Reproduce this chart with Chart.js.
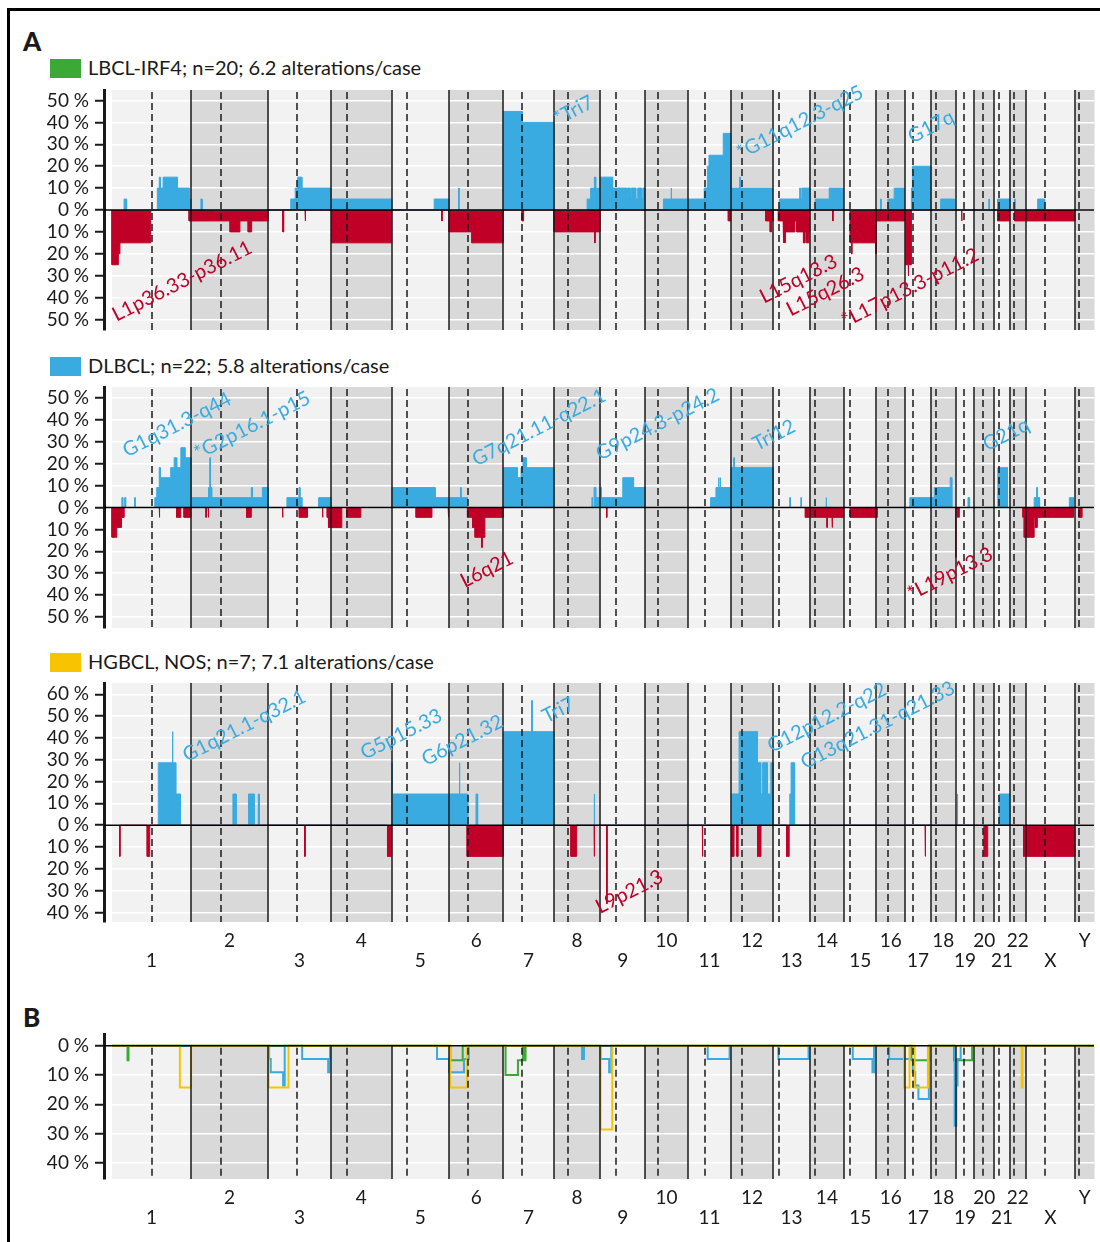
<!DOCTYPE html>
<html>
<head>
<meta charset="utf-8">
<script src="https://cdn.jsdelivr.net/npm/chart.js@4.4.1/dist/chart.umd.min.js"></script>
<style>
  body { margin:0; width:1100px; height:1242px; background:#fff; position:relative; overflow:hidden;
         font-family: Lato, "Noto Sans", sans-serif; color:#1a1a1a; }
  .frame { position:absolute; left:7px; top:8px; width:1100px; height:1240px; border-left:3px solid #000; border-top:3px solid #000; }
  .tag { position:absolute; left:23px; font-weight:900; font-size:26px; line-height:26px; }
  .patch { position:absolute; left:50px; width:31px; height:19px; }
  .legend { position:absolute; left:88px; font-size:20px; line-height:22px; white-space:nowrap; }
  canvas { position:absolute; left:30px; }
</style>
</head>
<body>
<div class="frame"></div>
<div class="tag" style="top:28px">A</div>
<div class="patch" style="top:59px;background:#3aa935"></div>
<div class="legend" style="top:56px">LBCL-IRF4; n=20; 6.2 alterations/case</div>
<canvas id="irf4" width="1070" height="250" style="top:85px"></canvas>

<div class="patch" style="top:357px;background:#3aabe1"></div>
<div class="legend" style="top:354px">DLBCL; n=22; 5.8 alterations/case</div>
<canvas id="dlbcl" width="1070" height="251" style="top:382px"></canvas>

<div class="patch" style="top:653px;background:#f8c300"></div>
<div class="legend" style="top:650px">HGBCL, NOS; n=7; 7.1 alterations/case</div>
<canvas id="hgbcl" width="1070" height="294" style="top:678px"></canvas>

<div class="tag" style="top:1004px">B</div>
<canvas id="homdel" width="1070" height="200" style="top:1029px"></canvas>

<script>
// ====== Genome (hg19, Mb) ======
const chrNames = ['1','2','3','4','5','6','7','8','9','10','11','12','13','14','15','16','17','18','19','20','21','22','X','Y'];
const chrLen   = [249.25, 243.2, 198.02, 191.15, 180.92, 171.12, 159.14, 146.36, 141.21, 135.53, 135.01, 133.85,
                  115.17, 107.35, 102.53, 90.35, 81.2, 78.08, 59.13, 63.03, 48.13, 51.3, 155.27, 59.37];
const chrCen   = [125, 93.3, 91, 50.4, 48.4, 61, 59.9, 45.6, 49, 40.2, 53.7, 35.8,
                  17.9, 17.6, 19, 36.6, 24, 17.2, 26.5, 27.5, 13.2, 14.7, 60.6, 12.5];

const chrStart = {};
let acc = 0;
chrNames.forEach((c, i) => { chrStart[c] = acc; acc += chrLen[i]; });
const genomeEnd = acc;

// ====== Tick labels (%) ======
const pctTicksAB = [-50, -40, -30, -20, -10, 0, 10, 20, 30, 40, 50];
const pctTicksC  = [-40, -30, -20, -10, 0, 10, 20, 30, 40, 50, 60];
const pctTicksHD = [-40, -30, -20, -10, 0];

// ====== Segments : [chr, start Mb, end Mb, % of cases] ======
const irf4Gain = [
  ['1',38,46,5], ['1',143,149,10], ['1',149,153,15], ['1',153,161,10], ['1',161,206,15], ['1',206,243,10], ['1',243,249.2,5],
  ['2',31,35,5],
  ['3',71,85,5], ['3',85,93,10], ['3',93,106,15], ['3',106,198,10],
  ['4',0,191.1,5],
  ['5',134,180.9,5],
  ['6',30,31.5,10],
  ['7',0,60,45], ['7',60,159.1,40],
  ['8',105,116,5], ['8',116,128,10], ['8',128,132,15], ['8',132,146.3,10],
  ['9',0,39,15], ['9',39,83,10], ['9',83,86,5], ['9',86,95,10], ['9',95,98,5], ['9',98,112,10], ['9',112,118,5], ['9',118,130,10], ['9',130,134,5], ['9',134,141,10],
  ['10',58,82,5], ['10',82,83.5,10], ['10',83.5,135.5,5],
  ['11',0,51,5], ['11',51,61,10], ['11',61,66,20], ['11',66,111,25], ['11',111,135,35],
  ['12',0,28,10], ['12',28,30,15], ['12',30,131,10],
  ['13',19,83,5], ['13',83,86,10], ['13',86,90,5], ['13',90,115,10],
  ['14',17,61,5], ['14',61,105,10],
  ['16',13,14.5,5], ['16',36,56,5], ['16',56,87,10],
  ['17',20,23,10], ['17',23,81,20],
  ['18',31,74,5],
  ['20',46,47,5],
  ['21',10,48,5],
  ['22',16,17,5],
  ['X',37,59,5]
];
const irf4Loss = [
  ['1',0,20,25], ['1',20,25,20], ['1',25,122,15], ['1',243,249.2,5],
  ['2',0,123,5], ['2',123,154,10], ['2',154,180,5], ['2',180,191,10], ['2',191,243,5],
  ['3',46,49,10], ['3',116,118,5],
  ['4',2,191,15],
  ['5',158,159.5,5],
  ['6',0,72,10], ['6',72,171.1,15],
  ['7',59,64,5],
  ['8',0,129,10], ['8',129,130.5,15], ['8',130.5,146,10],
  ['11',127,135,5],
  ['12',110,124,5], ['12',124,128,10], ['12',128,133.8,5],
  ['13',16,31,5], ['13',31,33,15], ['13',33,36,10], ['13',36,38,15], ['13',38,68,10], ['13',68,74,5], ['13',74,95,10],
  ['13',95,100,15], ['13',100,104,10], ['13',104,112,15], ['13',112,115,10],
  ['14',72,73.5,5],
  ['15',20,24,15], ['15',24,26,20], ['15',26,101,15], ['15',101,102.5,20],
  ['16',0,90.3,5],
  ['17',0,3,5], ['17',3,10,25], ['17',10,11,30], ['17',11,20,25],
  ['19',19,20,5],
  ['21',10,48,5],
  ['22',16,51.3,5], ['X',0,155,5]
];

const dlbclGain = [
  ['1',31,34,4.5], ['1',40,43,4.5], ['1',71,73,4.5],
  ['1',135,141,4.5], ['1',141,149,9.1], ['1',149,152,18.2], ['1',152,185,13.6], ['1',185,196,18.2], ['1',196,204,22.7],
  ['1',204,217,18.2], ['1',217,230,27.3], ['1',230,249.2,22.7],
  ['2',0,55,4.5], ['2',55,59,9.1], ['2',59,61,22.7], ['2',61,65,9.1], ['2',65,190,4.5], ['2',190,193,9.1], ['2',193,225,4.5], ['2',225,243.2,9.1],
  ['3',59,97,4.5], ['3',97,100,9.1], ['3',100,106,4.5], ['3',159,198,4.5],
  ['5',0,137,9.1], ['5',137,180.9,4.5],
  ['6',0,36,4.5], ['6',36,38,9.1], ['6',38,58,4.5],
  ['7',0,44,18.2], ['7',44,56,13.6], ['7',56,62,18.2], ['7',62,72,22.7], ['7',72,159.1,18.2],
  ['8',120,122,4.5], ['8',127,132,9.1], ['8',132,146.3,4.5],
  ['9',0,3,9.1], ['9',3,71,4.5], ['9',71,105,13.6], ['9',105,141,9.1],
  ['11',71,88,4.5], ['11',88,96,9.1], ['11',96,97.5,13.6], ['11',97.5,101,9.1], ['11',101,102.5,13.6], ['11',102.5,135,9.1],
  ['12',0,9,18.2], ['12',9,11,22.7], ['12',11,133.8,18.2],
  ['13',52,53.5,4.5], ['13',87,88.5,4.5],
  ['14',51,52.5,4.5],
  ['17',15,81.2,4.5],
  ['18',0,11,4.5], ['18',11,61,9.1], ['18',61,66,13.6],
  ['19',39,44,4.5],
  ['21',11,41,18.2],
  ['X',26,34,4.5], ['X',34,36,9.1], ['X',36,43,4.5], ['X',137,150,4.5]
];
const dlbclLoss = [
  ['1',0,15,13.6], ['1',15,30,9.1], ['1',30,35,4.5], ['1',37,38.5,4.5], ['1',149,150.5,4.5], ['1',204,217,4.5], ['1',227,249,4.5],
  ['2',47,48.5,4.5], ['2',54,55.5,4.5], ['2',175,190,4.5],
  ['3',45,46.5,4.5], ['3',98,124,4.5], ['3',171,172.5,4.5], ['3',186,190,4.5], ['3',190,198,9.1],
  ['4',0,34,9.1], ['4',49,94,4.5],
  ['5',77,127,4.5], ['5',178,180,4.5],
  ['6',58,74,4.5], ['6',74,82,9.1], ['6',82,103,13.6], ['6',103,105,18.2], ['6',105,113,13.6], ['6',113,171.1,4.5],
  ['9',20,21.5,4.5],
  ['13',101,115.2,4.5],
  ['14',0,54,4.5], ['14',54,55.5,9.1], ['14',55.5,70,4.5], ['14',70,71.5,9.1], ['14',71.5,107,4.5],
  ['15',20,100,4.5],
  ['16',1,2.5,4.5],
  ['19',0,1.5,22.7], ['19',5,6,4.5], ['19',10,11,4.5],
  ['22',42,43,4.5], ['22',46,51.3,13.6],
  ['X',0,26,13.6], ['X',26,30,4.5], ['X',30,36,9.1], ['X',36,150,4.5],
  ['Y',11,22,4.5]
];

const hgbclGain = [
  ['1',146,190,28.6], ['1',190,192,42.9], ['1',192,201,28.6], ['1',201,216,14.3],
  ['2',132,142,14.3], ['2',181,199,14.3], ['2',212,215,14.3],
  ['5',0,2,28.6], ['5',2,180.9,14.3],
  ['6',0,32,14.3], ['6',32,34,28.6], ['6',34,59,14.3], ['6',85,90,14.3],
  ['7',0,89,42.9], ['7',89,91,57.1], ['7',91,159.1,42.9],
  ['8',127,128.5,14.3],
  ['12',3,26,14.3], ['12',26,84,42.9], ['12',84,94,28.6], ['12',94,100,14.3], ['12',100,115,28.6], ['12',115,126,14.3], ['12',126,133,28.6],
  ['13',52,56,14.3], ['13',56,67,28.6],
  ['19',5,6.5,14.3],
  ['21',15,48,14.3]
];
const hgbclLoss = [
  ['1',24,26,14.3], ['1',111,119,14.3],
  ['3',115,117,14.3],
  ['4',178,191.1,14.3],
  ['6',57,171.1,14.3],
  ['8',54,72,14.3], ['8',127,128.5,14.3],
  ['9',20.5,22,36],
  ['11',45,46.5,14.3],
  ['12',3,10,14.3], ['12',19,23,14.3], ['12',84,95,14.3],
  ['13',42,50,14.3],
  ['17',63,64.5,14.3],
  ['20',31,42,14.3],
  ['22',44,51.3,14.3], ['X',0,155,14.3]
];

// panel B
const irf4Del = [
  ['1',49,52,5], ['6',4,43,5], ['7',7,46,10], ['7',46,62,5], ['7',66,70,5],
  ['17',20,76,5], ['18',73,78.08,5], ['19',0,52,5]
];
const dlbclDel = [
  ['3',3,8,4.5], ['3',8,47,9.1], ['3',47,52,13.6], ['3',107,189,4.5], ['3',189,193,9.1], ['3',193,195,4.5],
  ['5',143,180.92,4.5], ['6',0,47,9.1], ['6',47,62,4.5],
  ['8',89,95,4.5], ['9',1,28,4.5], ['9',28,35,9.1],
  ['11',62,131,4.5], ['13',16,111,4.5], ['15',28,90,4.5], ['15',90,95,9.1],
  ['16',40,90.35,4.5], ['17',0,24,4.5], ['17',24,32,9.1], ['17',32,42,13.6], ['17',42,75,18.2],
  ['18',75,78.08,27.3], ['19',0,2,27.3], ['19',2,6,13.6], ['19',6,16,4.5]
];
const hgbclDel = [
  ['1',214,249.2,14.3], ['3',1,64,14.3], ['6',4,57,14.3], ['9',1,38,28.6],
  ['16',87,90.35,14.3], ['17',0,14,14.3], ['17',30,72,14.3], ['22',38,41,14.3]
];

// ====== Annotations : [text, genome Mb, %] ======
const irf4Notes = [
  ['L1p36.33-p36.11', 221, -32.5], ['*Tri7', 1455, 45.5], ['*G11q12.3-q25', 2169, 40], ['G17q', 2582, 38],
  ['L15q13.3', 2164, -31.5], ['L15q26.3', 2249, -37.3], ['*L17p13.3-p11.2', 2516, -35.5]
];
const dlbclNotes = [
  ['G1q31.3-q44', 205, 37.8], ['*G2p16.1-p15', 442, 37.4], ['G7q21.11-q22.1', 1346, 36.5], ['G9p24.3-p24.2', 1720, 38],
  ['Tri12', 2087, 33], ['G21q', 2819, 33.3], ['L6q21', 1182, -28.3], ['*L19p13.3', 2642, -30.3]
];
const hgbclNotes = [
  ['G1q21.1-q32.1', 417, 45.5], ['G5p15.33', 912, 41.7], ['G6p21.32', 1105, 38.9], ['Tri7', 1407, 52.7],
  ['G12p12.2-q22', 2254, 49.3], ['G13q21.31-q21.33', 2414, 45.8], ['L9p21.3', 1631, -30.5]
];

// ====== Styles ======
const FONT = 'Lato, "Noto Sans", sans-serif';
const COL_GAIN = '#3aabe1';
const COL_LOSS = '#c00027';
const COL_IRF4 = '#3aa935';
const COL_HGBCL = '#f8c300';
const INK = '#1a1a1a';

// segments -> points for a line dataset
function toPoints(segs, sign, fullSpan) {
  const rows = segs.map(([c, s, e, v]) => [chrStart[c] + s, chrStart[c] + e, sign * v])
                   .sort((a, b) => a[0] - b[0]);
  const pts = [];
  let last = null;
  if (fullSpan) { pts.push({ x: 0, y: 0 }); last = 0; }
  rows.forEach(([s, e, v]) => {
    if (last === null || s - last > 0.5) {
      if (last !== null) pts.push({ x: last, y: 0 });
      pts.push({ x: s, y: 0 });
    }
    pts.push({ x: s, y: v }, { x: e, y: v });
    last = e;
  });
  if (last !== null) pts.push({ x: last, y: 0 });
  if (fullSpan) pts.push({ x: genomeEnd, y: 0 });
  return pts;
}

function areaSet(segs, sign, color) {
  return { data: toPoints(segs, sign, false), borderColor: color, backgroundColor: color,
           borderWidth: 1, fill: 'origin', pointRadius: 0, tension: 0 };
}
function lineSet(segs, color) {
  return { data: toPoints(segs, -1, true), borderColor: color, borderWidth: 2,
           fill: false, pointRadius: 0, tension: 0 };
}

// background bands, chromosome lines, zero line and labels
function genomeLayer(bgMax, notes) {
  return {
    id: 'genome',
    beforeDraw(chart) {
      const { ctx, chartArea: a, scales: { x, y } } = chart;
      const top = bgMax !== undefined ? y.getPixelForValue(bgMax) : a.top;
      ctx.save();
      chrNames.forEach((c, i) => {
        const x0 = x.getPixelForValue(chrStart[c]);
        const x1 = x.getPixelForValue(chrStart[c] + chrLen[i]);
        ctx.fillStyle = i % 2 ? '#d9d9d9' : '#f2f2f2';
        ctx.fillRect(x0, top, x1 - x0 + 0.5, a.bottom - top);
      });
      ctx.restore();
    },
    afterDatasetsDraw(chart) {
      const { ctx, chartArea: a, scales: { x, y } } = chart;
      const top = bgMax !== undefined ? y.getPixelForValue(bgMax) : a.top;
      ctx.save();
      ctx.strokeStyle = INK;
      ctx.lineWidth = 1.5;
      chrNames.forEach((c, i) => {
        if (i > 0) {
          const xs = Math.round(x.getPixelForValue(chrStart[c]));
          ctx.setLineDash([]);
          ctx.beginPath(); ctx.moveTo(xs, top); ctx.lineTo(xs, a.bottom); ctx.stroke();
        }
        const xc = Math.round(x.getPixelForValue(chrStart[c] + chrCen[i]));
        ctx.setLineDash([7, 4]);
        ctx.beginPath(); ctx.moveTo(xc, top + 2); ctx.lineTo(xc, a.bottom); ctx.stroke();
      });
      ctx.setLineDash([]);
      ctx.lineWidth = 1.6;
      ctx.strokeStyle = '#000';
      const y0 = y.getPixelForValue(0);
      ctx.beginPath(); ctx.moveTo(a.left, y0); ctx.lineTo(a.right, y0); ctx.stroke();
      ctx.restore();
    },
    afterDraw(chart) {
      if (!notes) return;
      const { ctx, scales: { x, y } } = chart;
      ctx.save();
      ctx.font = '20px ' + FONT;
      ctx.textAlign = 'center';
      ctx.textBaseline = 'middle';
      notes.forEach(([txt, gx, pct]) => {
        ctx.save();
        ctx.translate(x.getPixelForValue(gx), y.getPixelForValue(pct));
        ctx.rotate(-27 * Math.PI / 180);
        ctx.fillStyle = pct < 0 ? COL_LOSS : COL_GAIN;
        ctx.fillText(txt, 0, 0);
        ctx.restore();
      });
      ctx.restore();
    }
  };
}

function makePanel(id, cfg) {
  const xScale = {
    type: 'linear', min: -25.2, max: genomeEnd,
    display: !!cfg.xLabels,
    grid: { display: false, drawTicks: false },
    border: { display: false },
    afterBuildTicks: s => { s.ticks = chrNames.map((c, i) => ({ value: chrStart[c] + chrLen[i] / 2 })); },
    afterFit: s => {
      s.height = cfg.xLabels ? 50 : 0;
      s.paddingLeft = 0; s.paddingRight = 0;
    },
    ticks: {
      autoSkip: false, maxRotation: 0, minRotation: 0, padding: 8,
      color: INK, font: { family: FONT, size: 19, lineHeight: 1.1 },
      callback: (v, i) => (i % 2 ? [chrNames[i], ''] : ['', chrNames[i]])
    }
  };
  return new Chart(document.getElementById(id), {
    type: 'line',
    data: { datasets: cfg.datasets },
    options: {
      responsive: false, animation: false, devicePixelRatio: 1,
      layout: { padding: { top: 5, bottom: cfg.xLabels ? 0 : 5, right: 6, left: 0 } },
      plugins: { legend: { display: false }, tooltip: { enabled: false } },
      scales: {
        x: xScale,
        y: {
          min: cfg.yMin, max: cfg.yMax,
          afterBuildTicks: s => { s.ticks = cfg.ticks.map(v => ({ value: v })); },
          afterFit: s => { s.width = 74; s.paddingTop = 0; s.paddingBottom = 0; },
          ticks: { autoSkip: false, padding: 6, color: INK, font: { family: FONT, size: 19 },
                   callback: v => Math.abs(v) + ' %' },
          grid: { color: '#ffffff', lineWidth: 1.5, tickColor: INK, tickLength: 9, tickWidth: 2 },
          border: { color: INK, width: 3 }
        }
      }
    },
    plugins: [genomeLayer(cfg.bgMax, cfg.notes)]
  });
}

document.addEventListener('DOMContentLoaded', () => {
  makePanel('irf4', {
    yMin: -54.8, yMax: 54.8, ticks: pctTicksAB, notes: irf4Notes,
    datasets: [areaSet(irf4Gain, 1, COL_GAIN), areaSet(irf4Loss, -1, COL_LOSS)]
  });
  makePanel('dlbcl', {
    yMin: -55, yMax: 55, ticks: pctTicksAB, notes: dlbclNotes,
    datasets: [areaSet(dlbclGain, 1, COL_GAIN), areaSet(dlbclLoss, -1, COL_LOSS)]
  });
  makePanel('hgbcl', {
    yMin: -44.4, yMax: 65.2, ticks: pctTicksC, notes: hgbclNotes, xLabels: true,
    datasets: [areaSet(hgbclGain, 1, COL_GAIN), areaSet(hgbclLoss, -1, COL_LOSS)]
  });
  makePanel('homdel', {
    yMin: -45.5, yMax: 4, ticks: pctTicksHD, xLabels: true, bgMax: 0,
    datasets: [lineSet(hgbclDel, COL_HGBCL), lineSet(dlbclDel, COL_GAIN), lineSet(irf4Del, COL_IRF4)]
  });
});
</script>
</body>
</html>
